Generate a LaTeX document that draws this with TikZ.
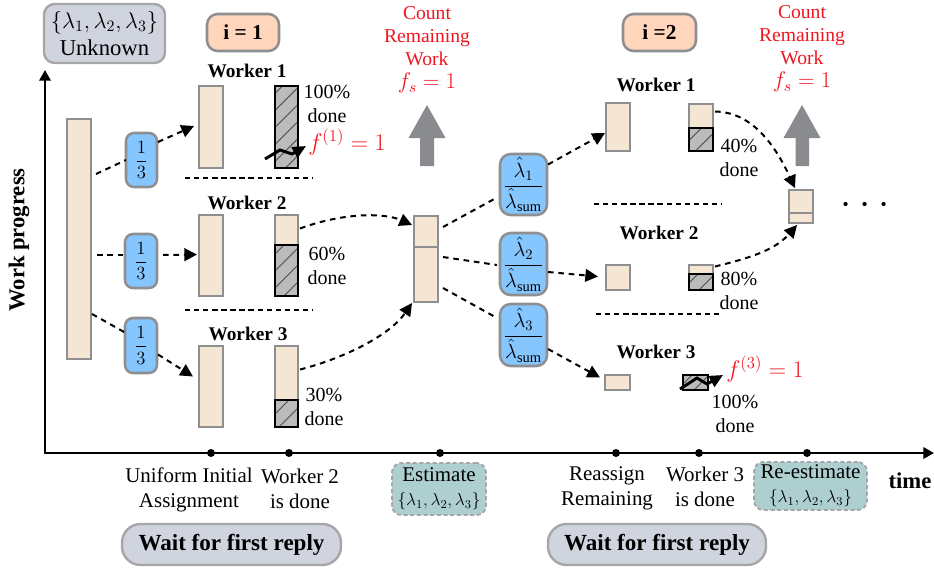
\RequirePackage{fix-cm}
\documentclass[tikz,border=0pt]{standalone}
\usepackage{amsmath}
\usepackage{fontspec}
\setmainfont{Liberation Serif}
\usetikzlibrary{arrows.meta,calc}
\definecolor{barfill}{HTML}{F5E6D3}
\definecolor{barline}{HTML}{8F8F92}
\definecolor{bluefill}{HTML}{85C6FF}
\definecolor{peach}{HTML}{FFD5BC}
\definecolor{slatebox}{HTML}{CFD4DE}
\definecolor{tealbox}{HTML}{AECFD0}
\definecolor{redtxt}{HTML}{F0141E}
\definecolor{arrowgray}{HTML}{898B8E}
\definecolor{hatchfill}{HTML}{BBBBBB}
\newcommand\fs[2]{\fontsize{#1}{#2}\selectfont}
\tikzset{
  x=0.75pt,y=-0.75pt,
  plainbar/.style={draw=barline,fill=barfill,line width=1.9pt},
  hatchbar/.style={draw=black,fill=hatchfill,line width=1.6pt,
    path picture={
      \foreach \k in {-12,...,12}{
        \draw[line width=0.7pt,black!70] ($(path picture bounding box.center)+(-40,{40+\k*17+6})$) -- ++(80,-80);
      }}},
  bluebox/.style={draw=barline,fill=bluefill,line width=1.9pt,rounded corners=6pt},
  peachbox/.style={draw=barline,fill=peach,line width=1.9pt,rounded corners=8pt,font=\fs{16}{18}\bfseries},
  slatenode/.style={draw=black!35,fill=slatebox,line width=1.8pt,rounded corners=8pt,align=center,font=\fs{17}{20}},
  waitbox/.style={draw=black!35,fill=slatebox,line width=1.8pt,rounded corners=14pt,font=\fs{17.3}{20}\bfseries},
  tealnode/.style={draw=black!35,fill=tealbox,line width=1.4pt,dash pattern=on 3pt off 2pt,rounded corners=7pt,align=center,font=\fs{15.7}{17}},
  txt/.style={inner sep=0pt,align=center,font=\fs{15}{17.5}},
  labeltxt/.style={inner sep=0pt,align=center,font=\fs{15.7}{17.5}},
  wlabel/.style={inner sep=0pt,font=\fs{14.5}{17}\bfseries},
  redlabel/.style={inner sep=0pt,align=center,text=redtxt,font=\fs{14.7}{17.2}},
  redformula/.style={inner sep=0pt,text=redtxt,font=\fs{18}{20}},
  flow/.style={line width=1.5pt,dash pattern=on 4.2pt off 3.6pt},
  flowtip/.style={flow,-{Triangle[length=9.5pt,width=9.5pt]}},
  sep/.style={line width=1.3pt,dash pattern=on 4pt off 2.8pt},
  axisline/.style={line width=1.7pt,-{Triangle[length=8pt,width=8.5pt]}},
  wiggle/.style={line width=2.2pt,-{Triangle[length=10pt,width=9pt]}},
  tick/.style={circle,fill=black,inner sep=0pt,minimum size=6pt},
  grayup/.style={fill=arrowgray,draw=none},
}
% [style]{name}{x1}{y1}{x2}{y2}{text}
\newcommand\boxn[6][]{%
  \pgfmathsetmacro\cxx{(#3+#5)/2}\pgfmathsetmacro\cyy{(#4+#6)/2}%
  \pgfmathsetmacro\wdd{(#5-#3)*0.75}\pgfmathsetmacro\htt{(#6-#4)*0.75}%
  \node[#1,inner sep=0pt,outer sep=0pt,minimum width=\wdd pt,minimum height=\htt pt] (#2) at (\cxx,\cyy)}
\begin{document}
\begin{tikzpicture}
\useasboundingbox (0,0) rectangle (934,568);
% axes
\coordinate (origin) at (45,453);
\coordinate (ytop) at (45,70);
\coordinate (xend) at (934,453);
\draw[axisline] (origin) -- (ytop);
\draw[axisline] ([xshift=-0.85pt]origin) -- (xend);
\node[inner sep=0pt,rotate=90,font=\fs{17}{18}\bfseries] (ylab) at (19,240) {Work progress};
\node[inner sep=0pt,font=\fs{17}{18}\bfseries] (xlab) at (910,481) {time};
\foreach \n/\x in {t1/211,t2/289,t3/440,t4/616,t5/699,t6/807}{\node[tick] (\n) at (\x,453) {};}
% top boxes
\boxn[slatenode]{unk}{44}{4}{165}{63}{$\{\lambda_1,\lambda_2,\lambda_3\}$\\[0pt]Unknown};
\boxn[peachbox]{iA}{207}{14}{279}{51}{i = 1};
\boxn[peachbox]{iB}{623}{14}{696}{51}{i =2};
% initial bar
\boxn[plainbar]{bar0}{67}{119}{91}{359}{};
% blue fractions
\boxn[bluebox]{bA}{126}{133}{157}{187}{\fs{14}{16}$\dfrac{1}{3}$};
\boxn[bluebox]{bB}{125}{234}{157}{288}{\fs{14}{16}$\dfrac{1}{3}$};
\boxn[bluebox]{bC}{125}{318}{157}{373}{\fs{14}{16}$\dfrac{1}{3}$};
% round 1 workers
\node[wlabel] (wA) at (247,71) {Worker 1};
\node[wlabel] (wB) at (247,203) {Worker 2};
\node[wlabel] (wC) at (248,334) {Worker 3};
\boxn[plainbar]{lA}{199}{86}{223}{168}{};
\boxn[plainbar]{lB}{199}{215}{223}{296}{};
\boxn[plainbar]{lC}{199}{346}{223}{427}{};
\boxn[hatchbar]{rA}{275}{86}{298}{168}{};
\boxn[plainbar]{rB}{275}{215}{298}{296}{};
\boxn[hatchbar]{rBh}{275}{245}{298}{296}{};
\boxn[plainbar]{rC}{275}{346}{298}{427}{};
\boxn[hatchbar]{rCh}{275}{400}{298}{427}{};
\node[txt] (pA) at (327,104) {100\%\\[1pt]done};
\node[txt] (pB) at (327,266) {60\%\\[1pt]done};
\node[txt] (pC) at (324,407) {30\%\\[1pt]done};
\coordinate (sA1) at (185,178); \coordinate (sA2) at (312,178);
\coordinate (sB1) at (185,310); \coordinate (sB2) at (312,310);
\draw[sep] (sA1) -- (sA2);
\draw[sep] (sB1) -- (sB2);
\node[redformula] (fA) at (347,142) {$f^{(1)}=1$};
\coordinate (wgA0) at (265,159); \coordinate (wgA1) at (280,150); \coordinate (wgA2) at (292,154); \coordinate (wgA3) at (306,146);
\draw[wiggle] (wgA0) -- (wgA1) -- (wgA2) -- (wgA3);
% middle
\boxn[plainbar]{mid}{414}{216}{438}{302}{};
\boxn[plainbar]{midt}{414}{216}{438}{247}{};
\node[redlabel] (cA) at (427,50) {Count\\Remaining\\Work\\[0pt]\fs{17}{17}$f_s=1$};
\node[redlabel] (cB) at (802,49) {Count\\Remaining\\Work\\[0pt]\fs{17}{17}$f_s=1$};
\draw[grayup] (427,105) -- (445.5,138) -- (434,138) -- (434,166) -- (420,166) -- (420,138) -- (408.5,138) -- cycle;
\draw[grayup] (802,105) -- (820.5,138) -- (809,138) -- (809,166) -- (795.5,166) -- (795.5,138) -- (783.5,138) -- cycle;
% hat fractions
\boxn[bluebox,rounded corners=8pt]{hA}{500}{154}{547}{215}{\fs{15.5}{18}$\dfrac{\hat\lambda_1}{\hat\lambda_{\mathrm{sum}}}$};
\boxn[bluebox,rounded corners=8pt]{hB}{500}{233}{547}{295}{\fs{15.5}{18}$\dfrac{\hat\lambda_2}{\hat\lambda_{\mathrm{sum}}}$};
\boxn[bluebox,rounded corners=8pt]{hC}{500}{304}{547}{366}{\fs{15.5}{18}$\dfrac{\hat\lambda_3}{\hat\lambda_{\mathrm{sum}}}$};
% round 2 workers
\node[wlabel] (wD) at (656,85) {Worker 1};
\node[wlabel] (wE) at (659,233) {Worker 2};
\node[wlabel] (wF) at (656,352) {Worker 3};
\boxn[plainbar]{lD}{606}{103}{630}{151}{};
\boxn[plainbar]{lE}{606}{265}{630}{290}{};
\boxn[plainbar]{lF}{605}{375}{630}{390}{};
\boxn[plainbar]{rD}{689}{104}{713}{151}{};
\boxn[hatchbar]{rDh}{689}{128}{713}{151}{};
\boxn[plainbar]{rE}{689}{265}{713}{290}{};
\boxn[hatchbar]{rEh}{689}{274}{713}{290}{};
\boxn[hatchbar]{rF}{683}{375}{708}{390}{};
\node[txt] (pD) at (739,158) {40\%\\[1pt]done};
\node[txt] (pE) at (739,291) {80\%\\[1pt]done};
\node[txt] (pF) at (735,414) {100\%\\[1pt]done};
\coordinate (sD1) at (594,204); \coordinate (sD2) at (721,204);
\coordinate (sE1) at (596,314); \coordinate (sE2) at (722,314);
\draw[sep] (sD1) -- (sD2);
\draw[sep] (sE1) -- (sE2);
\node[redformula] (fF) at (765,369) {$f^{(3)}=1$};
\coordinate (wgF0) at (680,389); \coordinate (wgF1) at (697,378); \coordinate (wgF2) at (707,384); \coordinate (wgF3) at (723,375);
\draw[wiggle] (wgF0) -- (wgF1) -- (wgF2) -- (wgF3);
% final bar
\boxn[plainbar]{fin}{789}{190}{813}{223}{};
\boxn[plainbar]{fint}{789}{190}{813}{213}{};
\node[inner sep=0pt,font=\fs{30}{30}] (dots) at (865,206) {\makebox[14.25pt]{$\cdot$}\makebox[14.25pt]{$\cdot$}\makebox[14.25pt]{$\cdot$}};
% bottom labels
\node[labeltxt] (lb1) at (189,490) {Uniform Initial\\[1pt]Assignment};
\node[labeltxt] (lb2) at (300,489) {Worker 2\\[1pt]is done};
\node[labeltxt] (lb4) at (607,488) {Reassign\\[1pt]Remaining};
\node[labeltxt] (lb5) at (705,487) {Worker 3\\[1pt]is done};
\boxn[tealnode]{est}{392}{463}{486}{515}{Estimate\\[1pt]\fs{13}{14}$\{\lambda_1,\lambda_2,\lambda_3\}$};
\boxn[tealnode]{rest}{754}{462}{867}{510}{Re-estimate\\[1pt]\fs{13}{14}$\{\lambda_1,\lambda_2,\lambda_3\}$};
\boxn[waitbox]{wait1}{122}{524}{341}{565}{Wait for first reply};
\boxn[waitbox]{wait2}{548}{524}{766}{565}{Wait for first reply};
% connectors
\draw[flow] ($(bar0.east)+(5,-65)$) -- ($(bA.west)+(0,0)$);
\draw[flowtip] ($(bA.east)+(1,-18)$) -- ($(lA.west)+(-5,-1)$);
\draw[flow] ($(bar0.east)+(6,16)$) -- ($(bB.west)+(0,-6)$);
\draw[flowtip] ($(bB.east)+(6,-6)$) -- ($(lB.west)+(-2,-1)$);
\draw[flow] ($(bar0.east)+(1,75)$) -- ($(bC.west)+(0,-13)$);
\draw[flowtip] ($(bC.east)+(1,9)$) -- ($(lC.west)+(-6,-10)$);
\draw[flowtip] ($(rB.east)+(2,-27)$) .. controls (345,212) and (385,213) .. ($(mid.west)+(-2,-34)$);
\draw[flowtip] ($(rC.east)+(2,-17)$) .. controls (345,358) and (390,335) .. ($(mid.south west)+(-2,1)$);
\draw[flow] ($(mid.east)+(5,-32)$) -- ($(hA.west)+(-3,13)$);
\draw[flowtip] ($(hA.east)+(1,-20)$) -- ($(lD.west)+(-1,6)$);
\draw[flow] ($(mid.east)+(5,-2)$) -- ($(hB.west)+(-3,1)$);
\draw[flowtip] ($(hB.east)+(1,8)$) -- ($(lE.west)+(-8,-1)$);
\draw[flow] ($(mid.east)+(5,29)$) -- ($(hC.west)+(-3,-17)$);
\draw[flowtip] ($(hC.east)+(1,14)$) -- ($(lF.west)+(-5,-5)$);
\draw[flowtip] ($(rD.east)+(2,-16)$) .. controls (752,112) and (775,145) .. ($(fin.north west)+(6,-2)$);
\draw[flowtip] ($(rE.east)+(2,-11)$) .. controls (750,258) and (775,250) .. ($(fin.south west)+(8,2)$);
\end{tikzpicture}
\end{document}
